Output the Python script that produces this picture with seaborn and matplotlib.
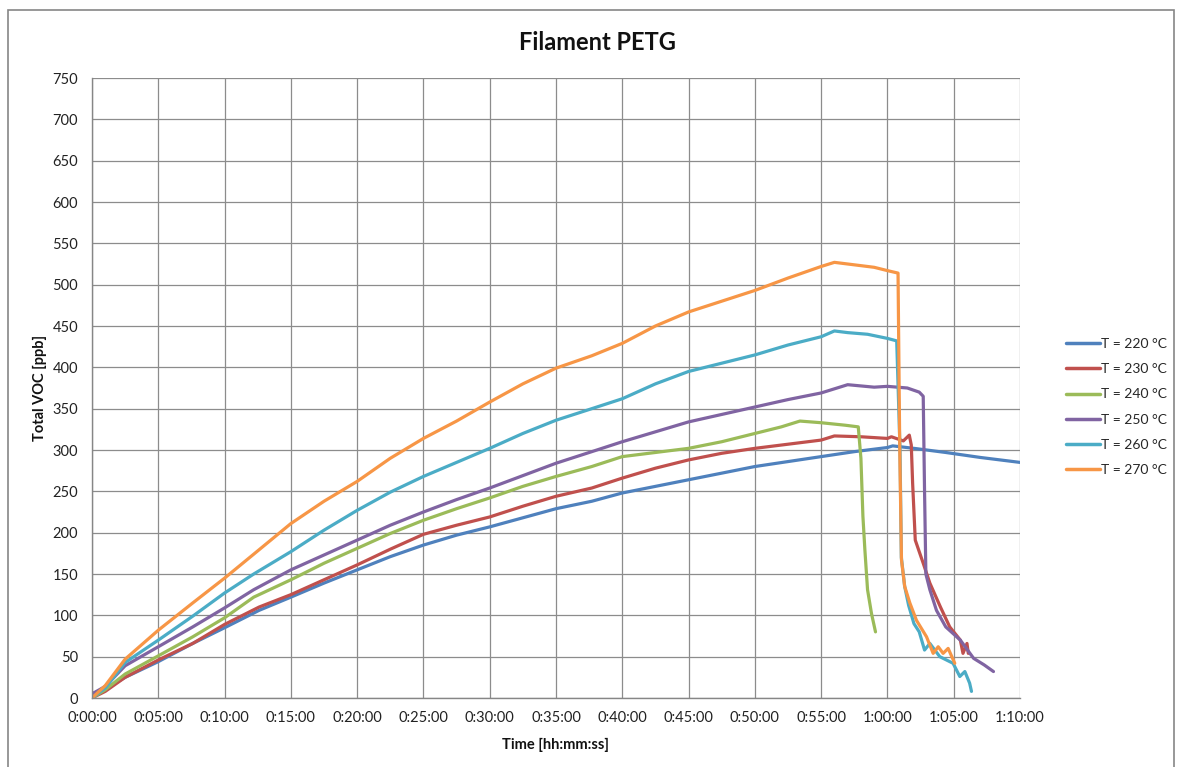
import matplotlib
matplotlib.use("Agg")
import matplotlib.pyplot as plt
import matplotlib.ticker as mticker
from matplotlib.lines import Line2D
import seaborn as sns
import pandas as pd

# ---- data (time in minutes, Total VOC in ppb) ----
t_220 = [0, 1, 2.5, 5, 7.6, 10, 12.6, 15, 17.5, 20, 22.5, 25, 27.5, 30, 32.5, 35, 37.7, 40, 42.5, 45, 47.5, 50,
         52.5, 55, 57.5, 60, 60.4, 62, 64.4, 67, 70]
v_220 = [5, 11, 25, 44, 66, 85, 106, 122, 139, 155, 171, 185, 197, 207, 218, 229, 238, 248, 256, 264, 272, 280,
         286, 292, 298, 303, 305, 302, 297, 291, 285]

t_230 = [0, 1, 2.5, 5, 7.6, 10, 12.6, 15, 17.5, 20, 22.5, 25, 27.5, 30, 32.5, 35, 37.7, 40, 42.5, 45, 47.5, 50,
         52.5, 55, 56, 58, 60, 60.3, 61.2, 61.65, 61.8, 61.9, 62.1, 62.7, 63.2, 64, 64.7, 65.5, 65.7, 66.0, 66.1]
v_230 = [0, 8, 25, 46, 66, 89, 110, 125, 143, 161, 180, 198, 209, 219, 232, 244, 254, 266, 278, 288, 296, 302,
         307, 312, 317, 316, 314, 316, 311, 318, 306, 260, 191, 163, 139, 110, 86, 70, 54, 66, 54]

t_240 = [0, 1, 2.5, 5, 7.6, 10, 12.2, 15, 17.5, 20, 22.5, 25, 27.5, 30, 32.5, 35, 37.7, 40, 42.5, 45, 47.5, 50,
         52, 53.4, 55, 56.8, 57.8, 58.0, 58.15, 58.3, 58.5, 58.8, 59.1]
v_240 = [0, 10, 29, 51, 74, 97, 122, 143, 163, 181, 199, 215, 229, 242, 256, 268, 280, 292, 297, 302, 310, 320,
         328, 335, 333, 330, 328, 290, 220, 179, 131, 102, 80]

t_250 = [0, 1, 2.5, 5, 7.6, 10, 12.2, 15, 17.5, 20, 22.5, 25, 27.5, 30, 32.5, 35, 37.7, 40, 42.5, 45, 47.5, 50,
         52.5, 55, 57, 59, 60, 61.5, 62.4, 62.7, 62.8, 62.9, 63.2, 63.7, 64.4, 65.5, 66.5, 67.3, 68.0]
v_250 = [5, 14, 39, 62, 86, 109, 131, 155, 173, 191, 209, 225, 240, 254, 269, 284, 298, 310, 322, 334, 343, 352,
         361, 369, 379, 376, 377, 375, 370, 365, 250, 150, 131, 106, 86, 70, 48, 40, 32]

t_260 = [0, 1, 2.5, 5, 7.6, 10, 12.2, 15, 17.5, 20, 22.5, 25, 27.5, 30, 32.5, 35, 37.7, 40, 42.5, 45, 47.5, 50,
         52.5, 55, 56, 57, 58.5, 60, 60.7, 60.95, 61.05, 61.3, 61.6, 62.0, 62.4, 62.8, 63.2, 63.95, 64.95, 65.46,
         65.84, 66.2, 66.34]
v_260 = [0, 12, 43, 70, 99, 127, 150, 177, 203, 227, 249, 268, 285, 302, 320, 336, 350, 362, 380, 395, 405, 415,
         427, 437, 444, 442, 440, 435, 432, 300, 170, 135, 112, 90, 80, 58, 66, 50, 42, 26, 32, 18, 8]

t_270 = [0, 1, 2.5, 5, 7.6, 10, 12.2, 15, 17.5, 20, 22.5, 25, 27.5, 30, 32.5, 35, 37.7, 40, 42.5, 45, 47.5, 50,
         52.5, 55, 56, 57.5, 59, 60, 60.8, 60.93, 61.06, 61.3, 61.69, 62.19, 62.95, 63.45, 63.83, 64.2, 64.58, 65.08]
v_270 = [0, 15, 47, 82, 115, 145, 174, 211, 238, 262, 290, 314, 335, 358, 380, 399, 414, 429, 450, 467, 480, 493,
         508, 522, 527, 524, 521, 517, 514, 300, 167, 135, 115, 94, 74, 54, 62, 54, 60, 42]

series_labels = ["T = 220 °C", "T = 230 °C", "T = 240 °C", "T = 250 °C", "T = 260 °C", "T = 270 °C"]
series_t = [t_220, t_230, t_240, t_250, t_260, t_270]
series_v = [v_220, v_230, v_240, v_250, v_260, v_270]
colors = ["#4F81BD", "#C0504D", "#9BBB59", "#8064A2", "#4BACC6", "#F79646"]

x_major_ticks = list(range(0, 71, 5))
y_major_ticks = list(range(0, 751, 50))

title_text = "Filament PETG"
x_label = "Time [hh:mm:ss]"
y_label = "Total VOC [ppb]"

# ---- build long table ----
rows = []
for lab, ts, vs in zip(series_labels, series_t, series_v):
    for t, v in zip(ts, vs):
        rows.append({"time": t, "voc": v, "series": lab})
df = pd.DataFrame(rows)

sns.set_theme(style="white")
plt.rcParams["font.family"] = ["Lato", "DejaVu Sans"]

W, H = 1178, 767
fig = plt.figure(figsize=(W / 100, H / 100), dpi=100)
ax = fig.add_axes([92 / W, 1 - 698 / H, (1020 - 92) / W, (698 - 78) / H])

sns.lineplot(data=df, x="time", y="voc", hue="series", hue_order=series_labels,
             palette=colors, estimator=None, sort=False, linewidth=2.3, ax=ax, legend=False)

ax.set_xlim(0, 70)
ax.set_ylim(0, 750)
ax.set_xticks(x_major_ticks)
ax.set_yticks(y_major_ticks)
ax.xaxis.set_minor_locator(mticker.MultipleLocator(1))
ax.yaxis.set_minor_locator(mticker.MultipleLocator(10))


def fmt_time(x, pos):
    total = int(round(x * 60))
    h = total // 3600
    m = (total % 3600) // 60
    s = total % 60
    return f"{h}:{m:02d}:{s:02d}"


ax.xaxis.set_major_formatter(mticker.FuncFormatter(fmt_time))

ax.grid(True, which="major", color="#8c8c8c", linewidth=0.9)
ax.set_axisbelow(True)
for side in ["top", "right"]:
    ax.spines[side].set_visible(False)
for side in ["left", "bottom"]:
    ax.spines[side].set_color("#868686")
    ax.spines[side].set_linewidth(1.0)

ax.tick_params(which="major", direction="out", length=4, width=1, color="#868686",
               labelsize=10.5, labelcolor="#222222")
ax.tick_params(which="minor", direction="in", length=4, width=1, color="#868686")
ax.tick_params(axis="y", which="major", pad=6)
ax.tick_params(axis="x", which="major", pad=5)

ax.set_xlabel(x_label, fontsize=10.5, fontweight="bold", color="#111111")
ax.set_ylabel(y_label, fontsize=10.5, fontweight="bold", color="#111111")
ax.yaxis.set_label_coords((40 - 92) / 928, 0.5)
ax.xaxis.set_label_coords(0.5, -(745 - 698) / 620)
ax.xaxis.label.set_va("center")
ax.yaxis.label.set_va("center")

fig.text(597 / W, 1 - 42 / H, title_text, ha="center", va="center",
         fontsize=17, fontweight="bold", color="#111111")

handles = [Line2D([0], [0], color=c, linewidth=2.5) for c in colors]
ax.legend(handles, series_labels, loc="center left", bbox_to_anchor=(1062 / W, 1 - 407 / H),
          bbox_transform=fig.transFigure, frameon=False, fontsize=10, handlelength=2.4,
          handletextpad=0.1, labelspacing=0.95, borderaxespad=0.0, borderpad=0.3)

# outer chart border
border = plt.Rectangle((8 / W, -0.01), (1174 - 8) / W, 1 - 10 / H + 0.01, transform=fig.transFigure,
                       fill=False, edgecolor="#868686", linewidth=1.2)
fig.patches.append(border)

fig.savefig("out.png", dpi=100, facecolor="white")
